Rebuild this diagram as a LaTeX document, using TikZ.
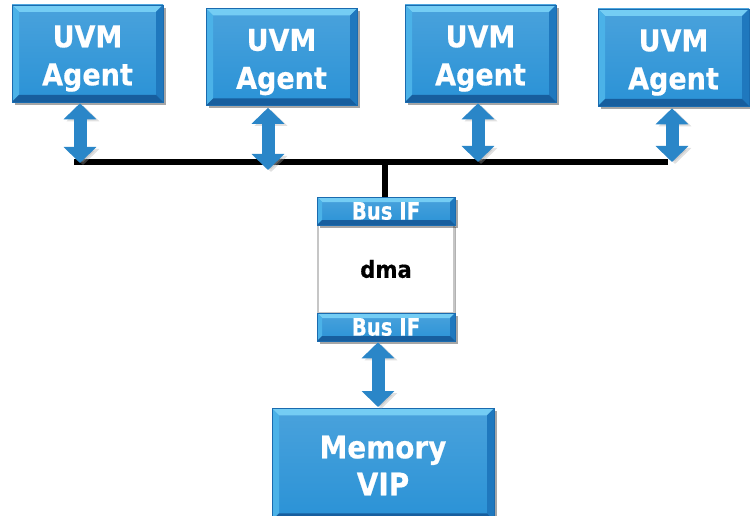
\documentclass[tikz,border=0pt]{standalone}
\usepackage{fontspec}
\setmainfont{DejaVu Sans}
\newfontfamily\heavy{DejaVu Sans Bold}[FakeBold=0.5,FakeStretch=0.9]
\newfontfamily\heavyn{DejaVu Sans Bold}[FakeBold=0.5,FakeStretch=0.82]
\usetikzlibrary{arrows.meta,shadows}
\definecolor{bmain}{HTML}{2A92D6}
\definecolor{btop}{HTML}{74CDF4}
\definecolor{bleft}{HTML}{4BB2E8}
\definecolor{bright}{HTML}{1F78BE}
\definecolor{bbot}{HTML}{175E9E}
\definecolor{bline}{HTML}{1A6BAF}
\definecolor{arrblue}{HTML}{2A86C8}
\tikzset{
  bev/.store in=\bevw, bev=7pt,
  bluebox/.style={draw=bline, line width=0.6pt, top color=bmain!85!white, bottom color=bmain,
    inner sep=0pt, align=center, text=white,
    drop shadow={shadow xshift=3pt, shadow yshift=-3pt, opacity=0.35, fill=black},
    path picture={
      \fill[btop] (path picture bounding box.north west) -- (path picture bounding box.north east)
        -- ([xshift=-\bevw,yshift=-\bevw]path picture bounding box.north east)
        -- ([xshift=\bevw,yshift=-\bevw]path picture bounding box.north west) -- cycle;
      \fill[bleft] (path picture bounding box.north west) -- (path picture bounding box.south west)
        -- ([xshift=\bevw,yshift=\bevw]path picture bounding box.south west)
        -- ([xshift=\bevw,yshift=-\bevw]path picture bounding box.north west) -- cycle;
      \fill[bright] (path picture bounding box.north east) -- (path picture bounding box.south east)
        -- ([xshift=-\bevw,yshift=\bevw]path picture bounding box.south east)
        -- ([xshift=-\bevw,yshift=-\bevw]path picture bounding box.north east) -- cycle;
      \fill[bbot] (path picture bounding box.south west) -- (path picture bounding box.south east)
        -- ([xshift=-\bevw,yshift=\bevw]path picture bounding box.south east)
        -- ([xshift=\bevw,yshift=\bevw]path picture bounding box.south west) -- cycle;
    }},
  agent/.style={bluebox, minimum width=151pt, minimum height=97pt, font=\fontsize{30}{38}\selectfont\heavy},
  busif/.style={bluebox, bev=5pt, minimum width=138pt, minimum height=28pt, font=\fontsize{24}{26}\selectfont\heavyn},
  dmabox/.style={draw=gray!45, line width=2pt, fill=white, minimum width=136pt, minimum height=88pt,
    inner sep=0pt, font=\fontsize{23.5}{26}\selectfont\heavy,
    drop shadow={shadow xshift=2pt, shadow yshift=-2pt, opacity=0.3, fill=black}},
  memvip/.style={agent, minimum width=222pt, minimum height=112pt, font=\fontsize{31}{37}\selectfont\heavy},
  dblarrow/.style={draw=arrblue, line width=13pt,
    {Triangle[width=32pt,length=16pt]}-{Triangle[width=32pt,length=16pt]},
    preaction={draw=black!35, opacity=0.35, transform canvas={xshift=3pt,yshift=-2pt}}},
  busline/.style={draw=black, line width=6pt},
}
\begin{document}
\begin{tikzpicture}[x=1pt,y=-1pt]
\useasboundingbox (0,0) rectangle (750,516);
% agents
\node[agent] (a1) at (87.5,53.5) {\rule{0pt}{32pt}UVM\\Agent};
\node[agent] (a2) at (281.5,57) {\rule{0pt}{32pt}UVM\\Agent};
\node[agent] (a3) at (480.5,53.5) {\rule{0pt}{32pt}UVM\\Agent};
\node[agent] (a4) at (673.5,57.5) {\rule{0pt}{32pt}UVM\\Agent};
% bus
\coordinate (b1) at (80,162);
\coordinate (b2) at (268,162);
\coordinate (b3) at (478,162);
\coordinate (b4) at (672,162);
\coordinate (bl) at (74,162);
\coordinate (br) at (668,162);
\coordinate (bc) at (385,162);
\draw[busline] (bl) -- (br);
% dma block
\node[dmabox] (dma) at (386,269) {dma};
\node[busif] (if1) at (386,211) {Bus IF};
\node[busif] (if2) at (386,327) {Bus IF};
\draw[busline] (bc) -- (bc |- if1.north);
% memory
\node[memvip, anchor=north] (mem) at (383,408) {\rule{0pt}{25pt}Memory\\VIP};
% arrows
\draw[dblarrow] ([yshift=-1pt]a1.south -| b1) -- ([yshift=-1pt]b1);
\draw[dblarrow] ([yshift=-2pt]a2.south -| b2) -- ([yshift=-8pt]b2);
\draw[dblarrow] ([yshift=-1pt]a3.south -| b3) -- ([yshift=0pt]b3);
\draw[dblarrow] ([yshift=-2pt]a4.south -| b4) -- ([yshift=0pt]b4);
\draw[dblarrow] ([yshift=-1pt]if2.south -| 378,0) -- ([yshift=1pt]mem.north -| 378,0);
\end{tikzpicture}
\end{document}
